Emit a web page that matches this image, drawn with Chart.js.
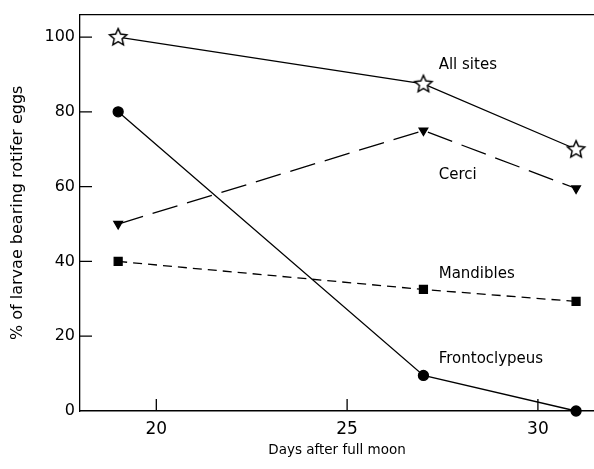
<!DOCTYPE html>
<html>
<head>
<meta charset="utf-8">
<script src="https://cdn.jsdelivr.net/npm/chart.js@4.4.0/dist/chart.umd.min.js"></script>
<style>
  body { margin: 0; background: #fff; }
  #wrap { width: 594px; height: 469px; position: relative; }
</style>
</head>
<body>
<div id="wrap"><canvas id="myChart"></canvas></div>
<script>
// Data
var days = [19, 27, 31];
var allSites = [100, 87.5, 70];
var cerci = [50, 75, 59.5];
var mandibles = [40, 32.5, 29.3];
var frontoclypeus = [80, 9.5, 0];

var seriesNames = ['All sites', 'Cerci', 'Mandibles', 'Frontoclypeus'];
var xTicks = [20, 25, 30];
var yTicks = [0, 20, 40, 60, 80, 100];

// where each series name sits (data coordinates, left edge / middle)
var labelSpots = [[27.4, 92.6], [27.4, 63], [27.4, 36.7], [27.4, 13.8]];

// Open five-point star for "All sites"
function makeStar() {
    var c = document.createElement('canvas');
    c.width = 22; c.height = 22;
    var g = c.getContext('2d');
    g.beginPath();
    for (var i = 0; i < 10; i++) {
        var r = (i % 2 === 0) ? 9 : 4.2;
        var a = -Math.PI / 2 + i * Math.PI / 5;
        var px = 11 + r * Math.cos(a);
        var py = 11.5 + r * Math.sin(a);
        if (i === 0) g.moveTo(px, py); else g.lineTo(px, py);
    }
    g.closePath();
    g.fillStyle = '#fff';
    g.fill();
    g.lineWidth = 1.5;
    g.strokeStyle = '#000';
    g.stroke();
    return c;
}

function pts(values) {
    return days.map(function(d, i) { return {x: d, y: values[i]}; });
}

// Inward ticks, top frame line and series names
var extras = {
    id: 'extras',
    afterDraw: function(chart) {
        var ctx = chart.ctx;
        var xs = chart.scales.x, ys = chart.scales.y;
        var area = chart.chartArea;
        ctx.save();
        ctx.strokeStyle = '#000';
        ctx.lineWidth = 1.3;
        ctx.beginPath();
        ctx.moveTo(area.left, area.top);
        ctx.lineTo(area.right, area.top);
        yTicks.forEach(function(v) {
            var y = ys.getPixelForValue(v);
            if (v === 0) return;
            ctx.moveTo(area.left, y);
            ctx.lineTo(area.left + 12, y);
        });
        xTicks.forEach(function(v) {
            var x = xs.getPixelForValue(v);
            ctx.moveTo(x, area.bottom);
            ctx.lineTo(x, area.bottom - 12);
        });
        ctx.stroke();

        ctx.fillStyle = '#000';
        ctx.font = '15px "DejaVu Sans"';
        ctx.textAlign = 'left';
        ctx.textBaseline = 'middle';
        seriesNames.forEach(function(name, i) {
            ctx.fillText(name, xs.getPixelForValue(labelSpots[i][0]), ys.getPixelForValue(labelSpots[i][1]));
        });
        ctx.restore();
    }
};

var ctx = document.getElementById('myChart').getContext('2d');

var myChart = new Chart(ctx, {
    type: 'scatter',
    data: {
        datasets: [
            {
                label: seriesNames[0],
                data: pts(allSites),
                showLine: true,
                borderColor: '#000',
                borderWidth: 1.3,
                pointStyle: makeStar(),
                clip: false
            },
            {
                label: seriesNames[1],
                data: pts(cerci),
                showLine: true,
                borderColor: '#000',
                borderWidth: 1.3,
                borderDash: [26, 10],
                pointStyle: 'triangle',
                rotation: 180,
                pointRadius: 5,
                backgroundColor: '#000',
                clip: false
            },
            {
                label: seriesNames[2],
                data: pts(mandibles),
                showLine: true,
                borderColor: '#000',
                borderWidth: 1.3,
                borderDash: [9, 6],
                pointStyle: 'rect',
                pointRadius: 5.6,
                backgroundColor: '#000',
                clip: false
            },
            {
                label: seriesNames[3],
                data: pts(frontoclypeus),
                showLine: true,
                borderColor: '#000',
                borderWidth: 1.3,
                pointStyle: 'circle',
                pointRadius: 5,
                backgroundColor: '#000',
                clip: false
            }
        ]
    },
    options: {
        responsive: true,
        maintainAspectRatio: false,
        animation: false,
        layout: { autoPadding: false, padding: { top: 11, right: 0, left: 0, bottom: 0 } },
        plugins: {
            legend: { display: false },
            tooltip: { enabled: false }
        },
        scales: {
            x: {
                type: 'linear',
                min: 18,
                max: 31.47,
                afterBuildTicks: function(scale) {
                    scale.ticks = xTicks.map(function(v) { return {value: v}; });
                },
                afterFit: function(scale) { scale.height = 58; },
                grid: { display: true, drawOnChartArea: false, drawTicks: false },
                border: { display: true, color: '#000', width: 1.5 },
                ticks: {
                    color: '#000',
                    padding: 8,
                    font: { family: 'DejaVu Sans', size: 17 }
                },
                title: {
                    display: true,
                    text: 'Days after full moon',
                    color: '#000',
                    font: { family: 'DejaVu Sans', size: 13.5 },
                    padding: { top: 0, bottom: 10 }
                }
            },
            y: {
                type: 'linear',
                min: 0,
                max: 106,
                afterBuildTicks: function(scale) {
                    scale.ticks = yTicks.map(function(v) { return {value: v}; });
                },
                afterFit: function(scale) { scale.width = 80; },
                grid: { display: true, drawOnChartArea: false, drawTicks: false },
                border: { display: true, color: '#000', width: 1.3 },
                ticks: {
                    color: '#000',
                    padding: 5,
                    font: { family: 'DejaVu Sans', size: 16 }
                },
                title: {
                    display: true,
                    text: '% of larvae bearing rotifer eggs',
                    color: '#000',
                    font: { family: 'DejaVu Sans', size: 16 },
                    padding: { top: 8, bottom: 0 }
                }
            }
        }
    },
    plugins: [extras]
});
</script>
</body>
</html>
